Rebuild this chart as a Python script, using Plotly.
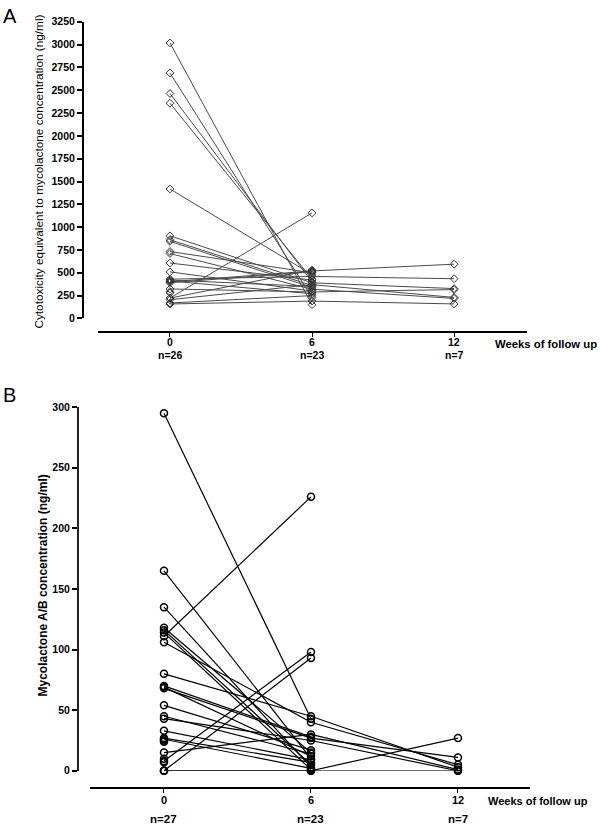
import plotly.graph_objects as go

# ---- panel A: cytotoxicity equivalent (ng/ml), one entry per patient
a_week0 = [3018, 2689, 2464, 2357, 1418, 905, 862, 844, 733, 711, 607, 510, 430,
           420, 410, 402, 391, 323, 294, 280, 223, 223, 205, 169, 158, 158]
a_week6 = [150, 230, 400, 430, 480, 390, 360, 340, 500, 320, 420, 300, 460,
           350, 270, 520, 510, 290, None, None, 1156, 530, 370, 250, 190, None]
a_week12 = [None, None, None, None, None, 327, None, None, None, 219, None, None, 435,
            None, None, 594, None, 316, None, None, None, None, 230, None, 159, None]
a_n = ["n=26", "n=23", "n=7"]

# ---- panel B: mycolactone A/B concentration (ng/ml)
b_week0 = [295, 165, 135, 118, 116, 114, 111, 106, 80, 70, 69, 68, 54, 45,
           43, 33, 27, 26, 25, 24, 15, 10, 8, 7, 0, 0, 0]
b_week6 = [43, 10, 3, 15, 5, 1, 226, 40, 45, 28, 12, 27, 17, 14,
           25, 9, 7, 2, None, None, 30, None, 98, None, 93, 0, 0]
b_week12 = [None, None, None, None, None, None, None, 5, 3, None, None, 11, None, None,
            0, None, None, None, None, None, 1, None, None, None, None, 27, 0]
b_n = ["n=27", "n=23", "n=7"]

weeks = [0, 6, 12]
W, H = 600, 831


def spaghetti(w0, w6, w12):
    xs, ys = [], []
    for vals in zip(w0, w6, w12):
        for wk, v in zip(weeks, vals):
            if v is not None:
                xs.append(wk)
                ys.append(v)
        xs.append(None)
        ys.append(None)
    return xs, ys


def px_x(p):
    return p / W


def px_y(p):
    return 1 - p / H


reg = "Liberation Sans, Arial, sans-serif"

fig = go.Figure()

xa, ya = spaghetti(a_week0, a_week6, a_week12)
fig.add_trace(go.Scatter(
    x=xa, y=ya, mode="lines+markers", xaxis="x", yaxis="y",
    line=dict(color="#4a4a4a", width=1),
    marker=dict(symbol="diamond-open", size=6, color="#333333", line=dict(width=1)),
    cliponaxis=False, showlegend=False, hoverinfo="skip"))

xb, yb = spaghetti(b_week0, b_week6, b_week12)
fig.add_trace(go.Scatter(
    x=xb, y=yb, mode="lines+markers", xaxis="x2", yaxis="y2",
    line=dict(color="black", width=1.2),
    marker=dict(symbol="circle-open", size=7, color="black", line=dict(width=1.5)),
    cliponaxis=False, showlegend=False, hoverinfo="skip"))

common_x = dict(showline=True, linecolor="black", linewidth=2,
                ticks="outside", ticklen=4, tickwidth=1, tickcolor="black",
                tickvals=weeks, showticklabels=False,
                showgrid=False, zeroline=False)

fig.update_layout(
    width=W, height=H,
    margin=dict(l=0, r=0, t=0, b=0),
    paper_bgcolor="white", plot_bgcolor="white",
    xaxis=dict(domain=[px_x(98), px_x(527)], range=[-3.04, 15.08],
               anchor="free", position=px_y(331), **common_x),
    yaxis=dict(domain=[px_y(317), px_y(16)], range=[0, 3250],
               anchor="free", position=px_x(83),
               showline=True, linecolor="black", linewidth=2,
               ticks="outside", ticklen=5, tickwidth=1.5, tickcolor="black",
               tickvals=list(range(0, 3251, 250)),
               tickfont=dict(family=reg, size=10.5, color="black", weight="bold"),
               showgrid=False, zeroline=False),
    xaxis2=dict(domain=[px_x(90), px_x(530)], range=[-3.02, 14.94],
                anchor="free", position=px_y(793), **common_x),
    yaxis2=dict(domain=[px_y(776), px_y(407)], range=[0, 300],
                anchor="free", position=px_x(78),
                showline=True, linecolor="#222222", linewidth=2,
                ticks="outside", ticklen=5, tickwidth=1.5, tickcolor="black",
                tickvals=list(range(0, 301, 50)),
                tickfont=dict(family=reg, size=10.5, color="black", weight="bold"),
                showgrid=False, zeroline=False),
)

ann = []
# panel letters
ann.append(dict(text="A", x=px_x(1), y=px_y(10), xanchor="left", yanchor="middle",
                font=dict(family=reg, size=20, color="black")))
ann.append(dict(text="B", x=px_x(1), y=px_y(395), xanchor="left", yanchor="middle",
                font=dict(family=reg, size=20, color="black")))
# y titles
ann.append(dict(text="Cytotoxicity equivalent to mycolactone concentration (ng/ml)",
                x=px_x(39), y=px_y(168), textangle=-90, xanchor="center", yanchor="middle",
                font=dict(family=reg, size=11.8, color="black")))
ann.append(dict(text="Mycolactone A/B concentration (ng/ml)",
                x=px_x(43), y=px_y(588), textangle=-90, xanchor="center", yanchor="middle",
                font=dict(family=reg, size=12, color="black", weight="bold")))
# x titles
ann.append(dict(text="Weeks of follow up", x=px_x(599), y=px_y(343), xanchor="right",
                yanchor="middle", font=dict(family=reg, size=11.3, color="black", weight="bold")))
ann.append(dict(text="Weeks of follow up", x=px_x(486), y=px_y(807), xanchor="left",
                yanchor="middle", font=dict(family=reg, size=11, color="black", weight="bold")))
# week tick labels and n= labels under ticks
for wk, t in zip(weeks, a_n):
    ann.append(dict(text=str(wk), x=wk, xref="x", y=px_y(341), yanchor="middle",
                    font=dict(family=reg, size=10.5, color="black", weight="bold")))
    ann.append(dict(text=t, x=wk, xref="x", y=px_y(354), yanchor="middle",
                    font=dict(family=reg, size=10.5, color="black", weight="bold")))
for wk, t in zip(weeks, b_n):
    ann.append(dict(text=str(wk), x=wk, xref="x2", y=px_y(806), yanchor="middle",
                    font=dict(family=reg, size=11, color="black", weight="bold")))
    ann.append(dict(text=t, x=wk, xref="x2", y=px_y(825), yanchor="middle",
                    font=dict(family=reg, size=11.5, color="black", weight="bold")))

for a in ann:
    a.setdefault("xref", "paper")
    a["yref"] = "paper"
    a["showarrow"] = False
fig.update_layout(annotations=ann)

fig.write_html("out.html", config={"displayModeBar": False},
               post_script="document.body.style.margin='0';")
